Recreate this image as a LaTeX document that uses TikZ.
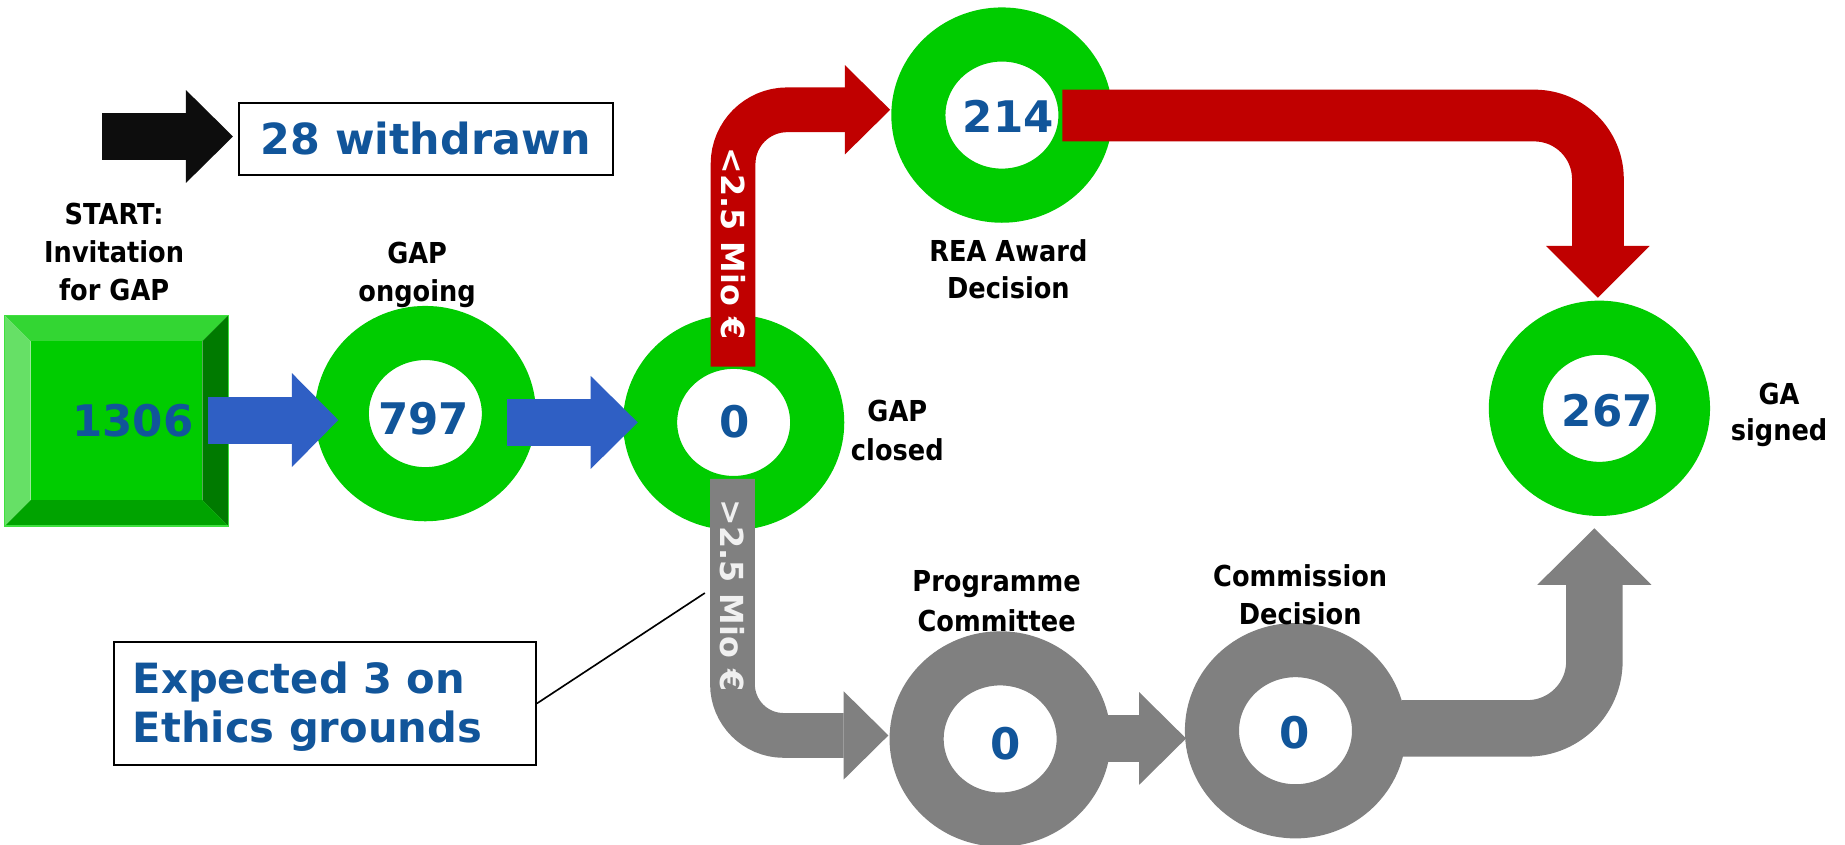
\documentclass[tikz,border=0pt]{standalone}
\usepackage{fontspec}
\setmainfont{DejaVu Sans}
\newfontfamily\lblfont[FakeStretch=0.89]{DejaVu Sans}
\usetikzlibrary{arrows.meta,shapes.geometric,calc}
\definecolor{ringgreen}{HTML}{00CC00}
\definecolor{flowblue}{HTML}{2F5FC4}
\definecolor{flowred}{HTML}{C00000}
\definecolor{flowgray}{HTML}{808080}
\definecolor{numblue}{HTML}{11559A}
\definecolor{arrowblack}{HTML}{0D0D0D}
\definecolor{bevtop}{HTML}{33D633}
\definecolor{bevleft}{HTML}{66E066}
\definecolor{bevright}{HTML}{007A00}
\definecolor{bevbottom}{HTML}{00A300}
\definecolor{bevedge}{HTML}{3FE03F}
\definecolor{barlabel}{HTML}{F0F0F0}
\begin{document}
\begin{tikzpicture}[x=0.5pt,y=-0.5pt,
  ring/.style={ellipse, draw=#1, line width=23pt, minimum width=71pt, minimum height=68.5pt, inner sep=0pt, outer sep=0pt},
  num/.style={font=\bfseries\fontsize{18.5pt}{22pt}\selectfont, text=numblue, inner sep=0pt},
  lbl/.style={align=center, inner sep=0pt, anchor=north, text=black},
  blockarrow/.style n args={5}{draw=#1, line width=#2, rounded corners=#5, -{Triangle[length=#3, width=#4, line width=0pt]}},
  barlbl/.style={font=\bfseries\fontsize{13.5pt}{16pt}\selectfont, rotate=-90, inner sep=0pt, text=#1},
  boxed/.style={draw=black, line width=0.85pt, fill=white, inner sep=0pt},
]
\fill[white] (0,0) rectangle (1568,718);
\useasboundingbox (0,0) rectangle (1568,718);

% start square with bevel
\node[minimum width=95pt, minimum height=89.5pt, inner sep=0pt, outer sep=0pt] (start) at (99,357.5) {};
\coordinate (iNW) at ($(start.north west)+(22,22)$);
\coordinate (iNE) at ($(start.north east)+(-22,22)$);
\coordinate (iSE) at ($(start.south east)+(-22,-22)$);
\coordinate (iSW) at ($(start.south west)+(22,-22)$);
\fill[bevtop] (start.north west) -- (start.north east) -- (iNE) -- (iNW) -- cycle;
\fill[bevright] (start.north east) -- (start.south east) -- (iSE) -- (iNE) -- cycle;
\fill[bevbottom] (start.south east) -- (start.south west) -- (iSW) -- (iSE) -- cycle;
\fill[bevleft] (start.south west) -- (start.north west) -- (iNW) -- (iSW) -- cycle;
\fill[ringgreen] (iNW) rectangle (iSE);
\draw[bevedge, line width=0.6pt] (start.north west) rectangle (start.south east);

% rings
\node[ring=ringgreen] (c797) at (361.5,351.5) {};
\node[ring=ringgreen] (cclosed) at (623.5,359) {};
\node[ring=ringgreen] (c214) at (851.5,97.8) {};
\node[ring=ringgreen] (c267) at (1359.3,347) {};
\node[ring=flowgray] (cpc) at (850,628) {};
\node[ring=flowgray] (ccd) at (1101,621) {};

% withdrawn box and callout box
\node[boxed, minimum width=159pt, minimum height=30.6pt, font=\bfseries\fontsize{18.2pt}{22pt}\selectfont, text=numblue] (wd) at (362,118.1) {28 withdrawn};
\node[boxed, minimum width=179.5pt, minimum height=52.2pt] (callout) at (276,597.8) {};
\node[anchor=north west, inner sep=0pt, align=left, text=numblue, font=\bfseries\fontsize{17.7pt}{20.5pt}\selectfont] (ctext) at (112.5,562.3) {Expected 3 on\\Ethics grounds};

% connector end points
\coordinate (k1) at (87,116);      \coordinate (k2) at (198,116);
\coordinate (b1s) at (177,357);    \coordinate (b1e) at (287.5,357);
\coordinate (b2s) at (431,359);    \coordinate (b2e) at (542,359);
\coordinate (r1s) at (623,311.6);  \coordinate (r1e) at (756.5,93.3);
\coordinate (r2s) at (902.8,98.2); \coordinate (r2e) at (1358,253);
\coordinate (g1s) at (622.5,407);  \coordinate (g1e) at (755,625);
\coordinate (g2s) at (898,627.6);  \coordinate (g2e) at (1008,627.6);
\coordinate (g3s) at (1191.6,619); \coordinate (g3e) at (1355,449);
\coordinate (cl) at (599,504);

% connectors
\draw[blockarrow={arrowblack}{20pt}{20pt}{39.5pt}{0pt}] (k1) -- (k2);
\draw[blockarrow={flowblue}{20pt}{19.75pt}{40pt}{0pt}] (b1s) -- (b1e);
\draw[blockarrow={flowblue}{20pt}{20pt}{39.5pt}{0pt}] (b2s) -- (b2e);
\draw[blockarrow={flowred}{19pt}{19.25pt}{38pt}{23pt}] (r1s) |- (r1e);
\draw[blockarrow={flowred}{22pt}{22pt}{44pt}{27pt}] (r2s) -| (r2e);
\draw[blockarrow={flowgray}{19pt}{19pt}{37.5pt}{21.75pt}] (g1s) |- (g1e);
\draw[blockarrow={flowgray}{20pt}{20pt}{39.5pt}{0pt}] (g2s) -- (g2e);
\draw[blockarrow={flowgray}{24pt}{24pt}{48.5pt}{28.5pt}] (g3s) -| (g3e);
\draw[line width=0.7pt] (callout.east) -- (cl);

% numbers
\node[num] (n1306) at (113,357.6) {1306};
\node[num] (n797) at (360,356) {797};
\node[num] (n0a) at (624,358) {0};
\node[num] (n214) at (857,98.5) {214};
\node[num] (n267) at (1366,349) {267};
\node[num] (n0b) at (855,632) {0};
\node[num] (n0c) at (1100.5,622.6) {0};

% labels
\node[lbl, font=\lblfont\bfseries\fontsize{12.25pt}{16.25pt}\selectfont] (lstart) at (97,171.8) {START:\\Invitation\\for GAP};
\node[lbl, font=\lblfont\bfseries\fontsize{12.25pt}{16pt}\selectfont] (lgap) at (354.5,205.7) {GAP\\ongoing};
\node[lbl, font=\lblfont\bfseries\fontsize{12.25pt}{16.5pt}\selectfont] (lclosed) at (762.6,340) {GAP\\closed};
\node[lbl, font=\lblfont\bfseries\fontsize{12.25pt}{16pt}\selectfont] (lrea) at (857,202.8) {REA Award\\Decision};
\node[lbl, font=\lblfont\bfseries\fontsize{12.25pt}{17.2pt}\selectfont] (lpc) at (847,484.4) {Programme\\Committee};
\node[lbl, font=\lblfont\bfseries\fontsize{12.25pt}{16.3pt}\selectfont] (lcd) at (1105,479.5) {Commission\\Decision};
\node[lbl, font=\lblfont\bfseries\fontsize{12.25pt}{15pt}\selectfont] (lga) at (1512,325.5) {GA\\signed};

% bar labels
\node[barlbl=white] (redlbl) at (623,207) {<2.5 Mio €};
\node[barlbl=barlabel] (graylbl) at (622.5,506) {>2.5 Mio €};
\end{tikzpicture}
\end{document}
